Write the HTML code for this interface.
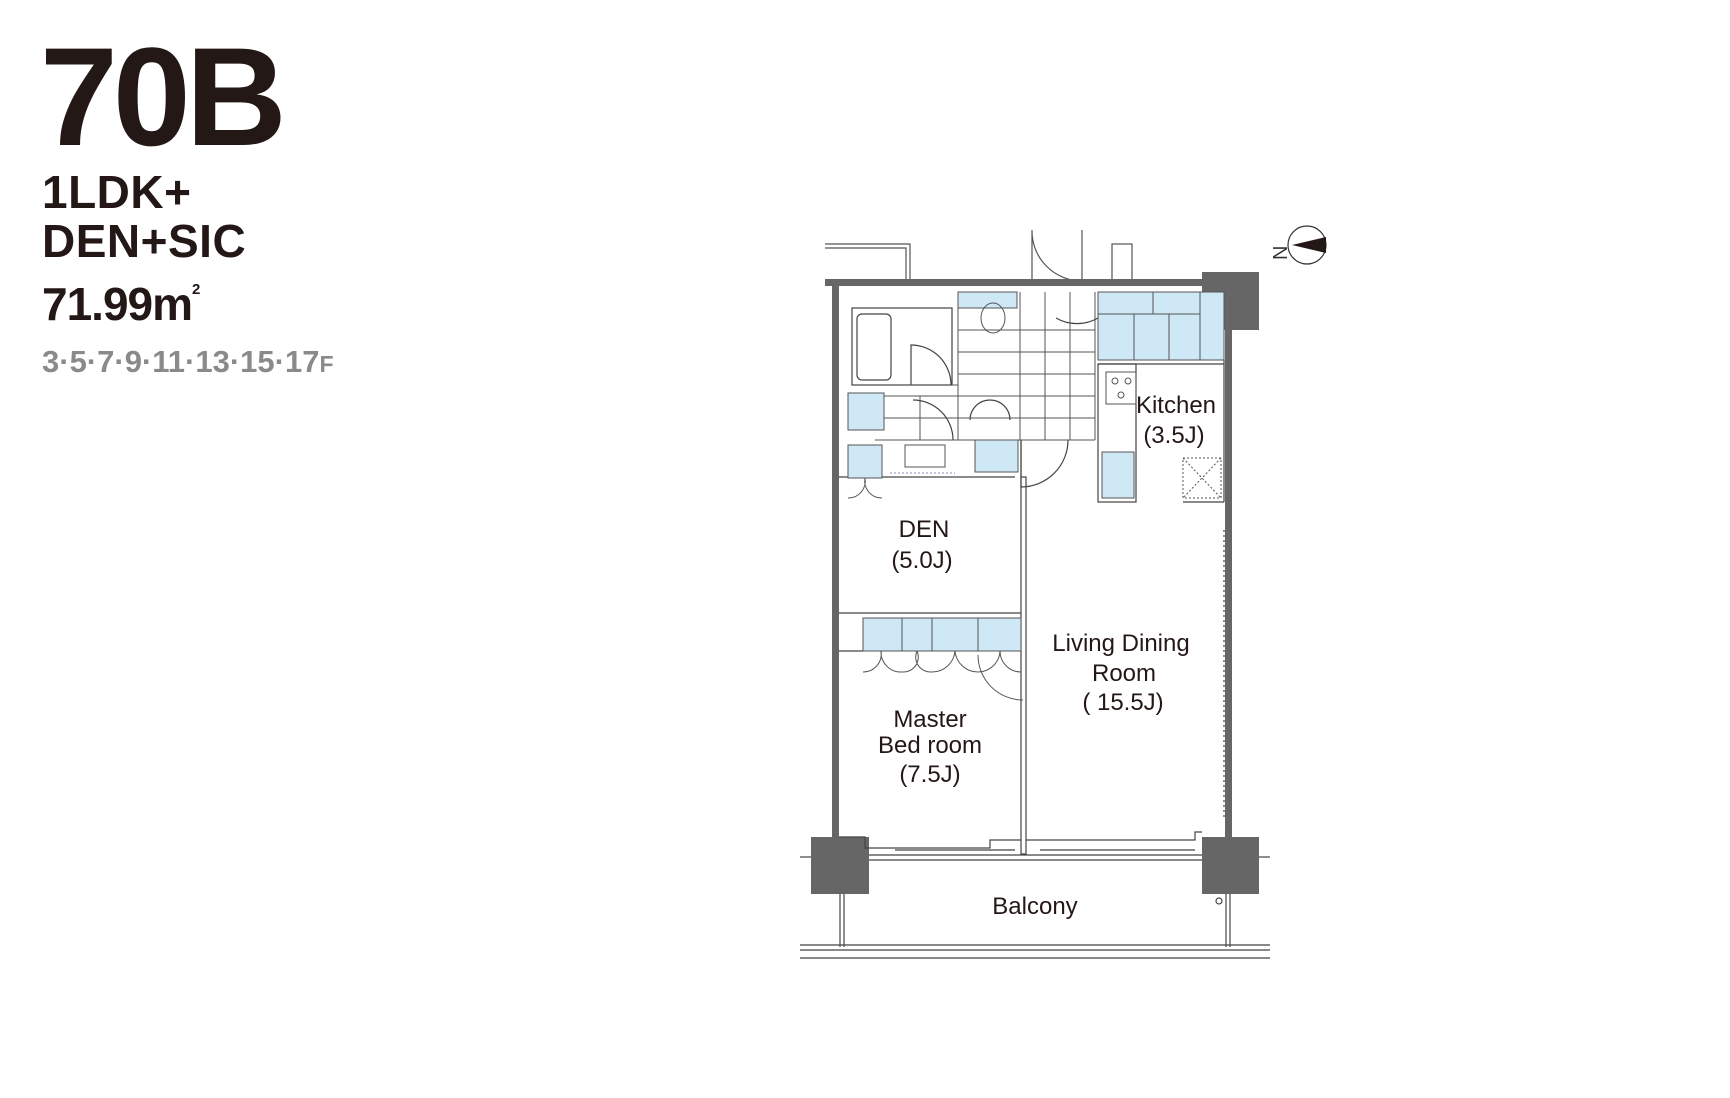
<!DOCTYPE html>
<html><head><meta charset="utf-8"><style>
html,body{margin:0;padding:0;background:#fff;}
body{width:1730px;height:1098px;position:relative;overflow:hidden;font-family:"Liberation Sans",Arial,sans-serif;color:#231815;}
.t{position:absolute;font-weight:bold;white-space:nowrap;}
</style></head><body>
<div class="t" style="left:40px;top:22px;font-size:140px;letter-spacing:-5px;line-height:150px;">70B</div>
<div class="t" style="left:42px;top:168px;font-size:46px;letter-spacing:0.5px;line-height:48px;">1LDK+</div>
<div class="t" style="left:42px;top:217px;font-size:46px;letter-spacing:0.5px;line-height:48px;">DEN+SIC</div>
<div class="t" style="left:42px;top:266px;font-size:46px;letter-spacing:-1px;line-height:48px;">71.99m<sup style="font-size:15px;vertical-align:26px;">2</sup></div>
<div class="t" style="left:42px;top:346px;font-size:31px;letter-spacing:0px;color:#8a8a8a;line-height:32px;">3·5·7·9·11·13·15·17<span style="font-size:23px">F</span></div>

<svg width="1730" height="1098" style="position:absolute;left:0;top:0" xmlns="http://www.w3.org/2000/svg">
<g transform="translate(-5,0)">
<g fill="none" stroke="#555" stroke-width="1.2">
<polyline points="830,244 915,244 915,281"/><polyline points="830,248 911,248 911,281"/>
<rect x="1117" y="244" width="20" height="37"/>
<path d="M1037,281 L1037,230 A50,50 0 0 0 1087,281"/>
<line x1="1087" y1="230" x2="1087" y2="281"/>
</g>
<g fill="#666">
<rect x="830" y="279" width="377" height="7"/>
<rect x="1207" y="272" width="57" height="58"/>
<rect x="837" y="286" width="7" height="551"/>
<rect x="1230" y="330" width="7" height="507"/>
<rect x="816" y="837" width="58" height="57"/>
<rect x="1207" y="837" width="57" height="57"/>
</g>
<g fill="none" stroke="#444" stroke-width="1.2">
<line x1="805" y1="857" x2="816" y2="857"/><line x1="1264" y1="857" x2="1275" y2="857"/>
<line x1="874" y1="855" x2="1207" y2="855"/><line x1="874" y1="860" x2="1207" y2="860"/>
<line x1="805" y1="945" x2="1275" y2="945"/><line x1="805" y1="950" x2="1275" y2="950"/><line x1="805" y1="958" x2="1275" y2="958"/>
<line x1="845" y1="894" x2="845" y2="947"/><line x1="849" y1="894" x2="849" y2="947"/>
<line x1="1231" y1="894" x2="1231" y2="947"/><line x1="1235" y1="894" x2="1235" y2="947"/>
<circle cx="1224" cy="901" r="3"/>
<polyline points="844,837 870,837 870,848 995,848 995,840 1026,840"/>
<polyline points="1031,840 1200,840 1200,832 1207,832"/>
<rect x="1026" y="477" width="5" height="377"/>
<line x1="844" y1="613" x2="1026" y2="613"/><line x1="844" y1="651" x2="868" y2="651"/>
<line x1="844" y1="477" x2="1020" y2="477"/>
<line x1="1026" y1="440" x2="1026" y2="477"/>
<line x1="1229" y1="360" x2="1229" y2="502"/>
<line x1="1103" y1="364" x2="1229" y2="364"/>
<rect x="1103" y="364" width="38" height="138"/>
<line x1="1188" y1="502" x2="1229" y2="502"/>
<line x1="1229" y1="530" x2="1229" y2="820" stroke-dasharray="2,3"/>
<line x1="900" y1="850" x2="1020" y2="850"/><line x1="1045" y1="850" x2="1200" y2="850"/>
<rect x="857" y="308" width="100" height="77"/>
<rect x="862" y="314" width="34" height="66" rx="5"/>
<g stroke="#555" stroke-width="1">
<line x1="963" y1="330" x2="1100" y2="330"/><line x1="963" y1="352" x2="1100" y2="352"/>
<line x1="963" y1="374" x2="1100" y2="374"/><line x1="880" y1="396" x2="1100" y2="396"/>
<line x1="880" y1="418" x2="1100" y2="418"/><line x1="880" y1="440" x2="1100" y2="440"/>
<line x1="1025" y1="292" x2="1025" y2="440"/><line x1="1050" y1="292" x2="1050" y2="440"/><line x1="1075" y1="292" x2="1075" y2="440"/>
<line x1="1100" y1="292" x2="1100" y2="440"/><line x1="963" y1="308" x2="963" y2="440"/>
<line x1="925" y1="396" x2="925" y2="440"/>
<line x1="963" y1="308" x2="1022" y2="308"/>
<line x1="957" y1="385" x2="963" y2="385"/>
</g>
<path d="M916,385 L916,345 A40,40 0 0 1 956,385"/>
<path d="M1026,440 L1026,487 A47,47 0 0 0 1073,440"/>
<path d="M1103,318 A42,42 0 0 1 1061,318"/>
<path d="M958,440 A40,40 0 0 0 918,400"/>
<path d="M975,420 A20,20 0 0 1 995,400 M1015,420 A20,20 0 0 0 995,400"/>
</g>
<g fill="#cfe8f5" stroke="#555" stroke-width="1">
<rect x="963" y="292" width="59" height="16"/>
<rect x="1103" y="292" width="126" height="68"/>
<rect x="1103" y="292" width="55" height="22"/><rect x="1158" y="292" width="47" height="22"/>
<rect x="1103" y="314" width="36" height="46"/><rect x="1139" y="314" width="35" height="46"/><rect x="1174" y="314" width="31" height="46"/>
<rect x="980" y="440" width="43" height="32"/>
<rect x="853" y="393" width="36" height="37"/>
<rect x="853" y="445" width="34" height="33"/>
<rect x="868" y="618" width="158" height="33"/>
<rect x="1107" y="452" width="32" height="46"/>
</g>
<g fill="none" stroke="#555" stroke-width="1">
<line x1="907" y1="618" x2="907" y2="651"/><line x1="937" y1="618" x2="937" y2="651"/><line x1="983" y1="618" x2="983" y2="651"/>
<path d="M868,672 A18,18 0 0 0 886,651 M907,672 A20,20 0 0 1 886,651 M907,672 A15,15 0 0 0 922,651 M937,672 A15,15 0 0 1 922,651 M937,672 A23,23 0 0 0 960,651 M983,672 A23,23 0 0 1 960,651 M983,672 A22,22 0 0 0 1005,651 M1026,672 A21,21 0 0 1 1005,651"/>
<path d="M983,655 A45,45 0 0 0 1028,700"/>
<path d="M853,498 A17,17 0 0 0 870,478 M887,498 A17,17 0 0 1 870,478"/>
<rect x="1111" y="372" width="30" height="32"/>
<circle cx="1120" cy="381" r="3"/><circle cx="1133" cy="381" r="3"/><circle cx="1126" cy="395" r="3"/>
<rect x="1188" y="458" width="38" height="40" stroke-dasharray="2,2"/>
<path d="M1188,458 L1226,498 M1226,458 L1188,498" stroke-dasharray="2,2"/>
<rect x="910" y="445" width="40" height="22"/>
<line x1="895" y1="473" x2="960" y2="473" stroke="#88b" stroke-dasharray="2,2"/>
<ellipse cx="998" cy="318" rx="12" ry="15"/>
</g>
<g>
<circle cx="1312" cy="245" r="19" fill="#fff" stroke="#333" stroke-width="1.2"/>
<path d="M1297,245 L1331,237 L1331,253 Z" fill="#231815"/>
<text x="1274" y="258" font-size="20" font-family="Liberation Sans" transform="rotate(-90 1284 250)" fill="#333">N</text>
</g>
<g font-family="Liberation Sans,Arial,sans-serif" font-size="24" fill="#231815" text-anchor="middle">
<text x="1181" y="413">Kitchen</text><text x="1179" y="443">(3.5J)</text>
<text x="929" y="537">DEN</text><text x="927" y="568">(5.0J)</text>
<text x="1126" y="651">Living Dining</text><text x="1129" y="681">Room</text><text x="1128" y="710">( 15.5J)</text>
<text x="935" y="727">Master</text><text x="935" y="753">Bed room</text><text x="935" y="782">(7.5J)</text>
<text x="1040" y="914">Balcony</text>
</g>
</g>
</svg>
</body></html>
